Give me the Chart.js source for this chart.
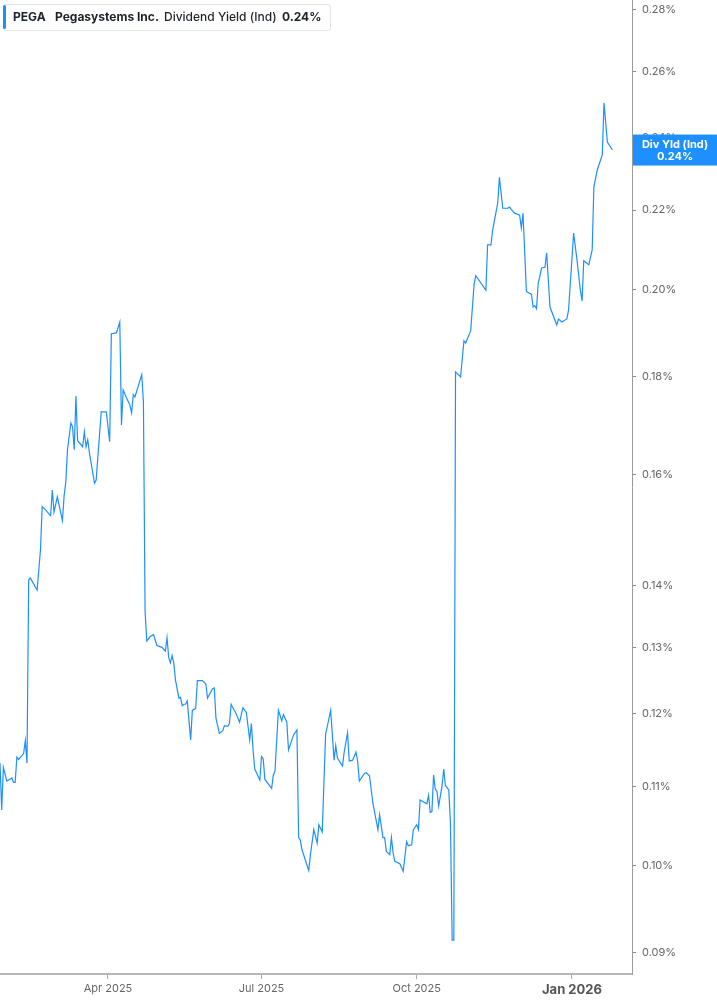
<!DOCTYPE html>
<html>
<head>
<meta charset="utf-8">
<script src="https://cdn.jsdelivr.net/npm/chart.js@4.4.1/dist/chart.umd.min.js"></script>
<style>
html,body{margin:0;padding:0;background:#fff;}
#wrap{position:relative;width:717px;height:1005px;overflow:hidden;}
#c{position:absolute;left:0;top:0;}
#legend{position:absolute;left:3px;top:4px;width:326px;height:25px;border:1px solid #e3e3e3;border-radius:3px;background:#fff;font-family:Inter,'Noto Sans',sans-serif;font-size:12px;color:#1f2328;}
#legend .bar{position:absolute;left:-1px;top:0px;width:3px;height:24px;background:#1e8fff;border-radius:2px;}
#legend span{position:absolute;top:4px;white-space:nowrap;line-height:15px;}
</style>
</head>
<body>
<div id="wrap">
<canvas id="c" width="717" height="1005"></canvas>
<div id="legend">
  <div class="bar"></div>
  <span style="left:9px;font-weight:700">PEGA</span>
  <span style="left:51px;font-weight:700">Pegasystems Inc.</span>
  <span style="left:160px;font-weight:500">Dividend Yield (Ind)</span>
  <span style="left:278px;font-weight:700">0.24%</span>
</div>
</div>
<script>
const dates = [
'2025-01-27','2025-01-28','2025-01-29','2025-01-31','2025-02-01','2025-02-03','2025-02-04','2025-02-05','2025-02-06','2025-02-07',
'2025-02-10','2025-02-11','2025-02-12','2025-02-13','2025-02-14','2025-02-18','2025-02-20','2025-02-21','2025-02-23','2025-02-26',
'2025-02-27','2025-02-28','2025-03-02','2025-03-05','2025-03-06','2025-03-07','2025-03-08','2025-03-10','2025-03-11','2025-03-12',
'2025-03-13','2025-03-14','2025-03-17','2025-03-18','2025-03-19','2025-03-20','2025-03-21','2025-03-24','2025-03-25','2025-03-28',
'2025-03-31','2025-04-02','2025-04-03','2025-04-06','2025-04-08','2025-04-09','2025-04-10','2025-04-12','2025-04-14','2025-04-15',
'2025-04-16','2025-04-17','2025-04-21','2025-04-22','2025-04-23','2025-04-24','2025-04-26','2025-04-28','2025-04-30','2025-05-03',
'2025-05-05','2025-05-06','2025-05-07','2025-05-08','2025-05-09','2025-05-10','2025-05-11','2025-05-13','2025-05-14','2025-05-15',
'2025-05-16','2025-05-17','2025-05-18','2025-05-20','2025-05-21','2025-05-23','2025-05-24','2025-05-27','2025-05-29','2025-05-30',
'2025-06-02','2025-06-03','2025-06-04','2025-06-05','2025-06-06','2025-06-08','2025-06-09','2025-06-11','2025-06-12','2025-06-13',
'2025-06-16','2025-06-18','2025-06-20','2025-06-22','2025-06-24','2025-06-25','2025-06-26','2025-06-27','2025-06-30','2025-07-01',
'2025-07-02','2025-07-03','2025-07-05','2025-07-07','2025-07-08','2025-07-09','2025-07-11','2025-07-12','2025-07-13','2025-07-14',
'2025-07-16','2025-07-17','2025-07-20','2025-07-22','2025-07-23','2025-07-24','2025-07-25','2025-07-29','2025-07-30','2025-08-01',
'2025-08-03','2025-08-04','2025-08-06','2025-08-08','2025-08-09','2025-08-11','2025-08-13','2025-08-14','2025-08-15','2025-08-18',
'2025-08-19','2025-08-21','2025-08-22','2025-08-24','2025-08-26','2025-08-27','2025-08-28','2025-08-31','2025-09-01','2025-09-03',
'2025-09-05','2025-09-08','2025-09-09','2025-09-11','2025-09-12','2025-09-13','2025-09-15','2025-09-16','2025-09-17','2025-09-18',
'2025-09-21','2025-09-23','2025-09-25','2025-09-26','2025-09-28','2025-09-29','2025-10-01','2025-10-02','2025-10-03','2025-10-07',
'2025-10-08','2025-10-09','2025-10-10','2025-10-11','2025-10-12','2025-10-13','2025-10-14','2025-10-16','2025-10-17','2025-10-18',
'2025-10-20','2025-10-21','2025-10-22','2025-10-23','2025-10-24','2025-10-27','2025-10-29','2025-10-30','2025-11-02','2025-11-04',
'2025-11-05','2025-11-11','2025-11-12','2025-11-14','2025-11-15','2025-11-17','2025-11-18','2025-11-19','2025-11-21','2025-11-24',
'2025-11-25','2025-11-26','2025-11-28','2025-12-01','2025-12-02','2025-12-03','2025-12-05','2025-12-08','2025-12-09','2025-12-10',
'2025-12-11','2025-12-12','2025-12-14','2025-12-16','2025-12-17','2025-12-19','2025-12-23','2025-12-24','2025-12-26','2025-12-29',
'2025-12-30','2026-01-02','2026-01-04','2026-01-06','2026-01-07','2026-01-08','2026-01-11','2026-01-13','2026-01-14','2026-01-16',
'2026-01-19','2026-01-20','2026-01-22','2026-01-25'
];
const dividendYield = [
0.1131,0.1069,0.1125,0.1107,0.1108,0.1111,0.1105,0.1105,0.1139,0.1136,
0.1144,0.1162,0.1131,0.1410,0.1413,0.1393,0.1462,0.1540,0.1534,0.1523,
0.1571,0.1530,0.1558,0.1514,0.1560,0.1586,0.1649,0.1703,0.1695,0.1649,
0.1759,0.1667,0.1655,0.1685,0.1655,0.1669,0.1643,0.1584,0.1590,0.1726,
0.1726,0.1665,0.1896,0.1898,0.1923,0.1699,0.1772,0.1755,0.1740,0.1724,
0.1762,0.1757,0.1805,0.1747,0.1357,0.1310,0.1317,0.1320,0.1303,0.1300,
0.1294,0.1315,0.1284,0.1276,0.1287,0.1276,0.1250,0.1223,0.1224,0.1212,
0.1214,0.1214,0.1219,0.1163,0.1205,0.1208,0.1249,0.1249,0.1244,0.1223,
0.1237,0.1238,0.1194,0.1183,0.1172,0.1176,0.1183,0.1182,0.1186,0.1214,
0.1200,0.1188,0.1209,0.1202,0.1163,0.1186,0.1149,0.1123,0.1108,0.1140,
0.1137,0.1109,0.1103,0.1097,0.1115,0.1120,0.1205,0.1198,0.1190,0.1199,
0.1188,0.1149,0.1170,0.1177,0.1034,0.1031,0.1019,0.0994,0.1013,0.1044,
0.1027,0.1050,0.1041,0.1172,0.1182,0.1205,0.1135,0.1155,0.1138,0.1127,
0.1146,0.1173,0.1134,0.1135,0.1146,0.1133,0.1107,0.1117,0.1118,0.1114,
0.1078,0.1044,0.1063,0.1034,0.1034,0.1017,0.1013,0.1034,0.1015,0.1005,
0.1002,0.0993,0.1029,0.1024,0.1025,0.1044,0.1050,0.1044,0.1082,0.1077,
0.1088,0.1066,0.1067,0.1115,0.1096,0.1093,0.1074,0.1100,0.1123,0.1101,
0.1095,0.1052,0.0914,0.0914,0.1811,0.1800,0.1880,0.1875,0.1903,0.2012,
0.2033,0.1998,0.2110,0.2110,0.2148,0.2195,0.2219,0.2289,0.2205,0.2205,
0.2208,0.2202,0.2192,0.2187,0.2153,0.2192,0.1995,0.1988,0.1958,0.1961,
0.1954,0.2014,0.2052,0.2054,0.2090,0.1958,0.1916,0.1930,0.1923,0.1930,
0.1951,0.2140,0.2072,0.1998,0.1972,0.2070,0.2060,0.2097,0.2262,0.2309,
0.2351,0.2503,0.2388,0.2365
];
const xTickDates = ['2025-04-01','2025-07-01','2025-10-01','2026-01-01'];
const xTickLabels = ['Apr 2025','Jul 2025','Oct 2025','Jan 2026'];
const yTickValues = [0.09,0.10,0.11,0.12,0.13,0.14,0.16,0.18,0.20,0.22,0.24,0.26,0.28];
const seriesLabel = 'Div Yld (Ind)';

const toDay = s => Date.UTC(+s.slice(0,4), +s.slice(5,7)-1, +s.slice(8,10)) / 86400000;
const points = dates.map((d,i) => ({x: toDay(d), y: dividendYield[i]}));
const xMin = toDay(dates[0]);
const xMax = xMin + 374.6;
const FONT = "Inter, 'Noto Sans', sans-serif";

const badgePlugin = {
  id: 'badge',
  afterDraw(chart) {
    const {ctx, chartArea} = chart;
    const y = chart.scales.y;
    const v = dividendYield[dividendYield.length - 1];
    const py = y.getPixelForValue(v);
    ctx.save();
    ctx.fillStyle = '#1e8fff';
    ctx.fillRect(chartArea.right + 1, py - 15.5, chart.width - chartArea.right - 1, 31);
    ctx.fillStyle = '#ffffff';
    ctx.font = '700 11px ' + FONT;
    ctx.textAlign = 'center';
    ctx.textBaseline = 'middle';
    const cx = (chartArea.right + chart.width) / 2 + 0.5;
    ctx.fillText(seriesLabel, cx, py - 5);
    ctx.fillText(v.toFixed(2) + '%', cx, py + 6.5);
    ctx.restore();
  }
};

new Chart(document.getElementById('c'), {
  type: 'line',
  data: {
    datasets: [{
      label: seriesLabel,
      data: points,
      borderColor: '#1e8fff',
      borderWidth: 1.2,
      pointRadius: 0,
      tension: 0,
      fill: false
    }]
  },
  options: {
    responsive: false,
    animation: false,
    layout: {padding: 0},
    plugins: {legend: {display: false}, tooltip: {enabled: false}},
    scales: {
      x: {
        type: 'linear',
        min: xMin,
        max: xMax,
        afterBuildTicks: s => { s.ticks = xTickDates.map(d => ({value: toDay(d)})); },
        afterFit: s => { s.height = 31; s.paddingLeft = 0; s.paddingRight = 0; },
        ticks: {
          autoSkip: false,
          maxRotation: 0,
          padding: 3,
          color: ctx => ctx.index === 3 ? '#555' : '#666',
          font: ctx => ctx.index === 3 ? {family: FONT, size: 13, weight: '700'} : {family: FONT, size: 11, weight: '400'},
          callback: (v, i) => xTickLabels[i]
        },
        grid: {display: true, drawOnChartArea: false, drawTicks: true, tickLength: 5, tickColor: '#aaaaaa', tickWidth: 1},
        border: {display: true, color: '#b8b8b8', width: 2}
      },
      y: {
        type: 'logarithmic',
        position: 'right',
        min: 0.08775,
        max: 0.2833,
        afterBuildTicks: s => { s.ticks = yTickValues.map(v => ({value: v})); },
        afterFit: s => { s.width = 85; s.paddingTop = 0; s.paddingBottom = 0; },
        ticks: {
          autoSkip: false,
          padding: 6,
          color: '#666',
          font: {family: FONT, size: 11},
          callback: v => Number(v).toFixed(2) + '%'
        },
        grid: {display: true, drawOnChartArea: false, drawTicks: true, tickLength: 4, tickColor: '#888888', tickWidth: 1},
        border: {display: true, color: '#9a9a9a', width: 1}
      }
    }
  },
  plugins: [badgePlugin]
});
</script>
</body>
</html>
